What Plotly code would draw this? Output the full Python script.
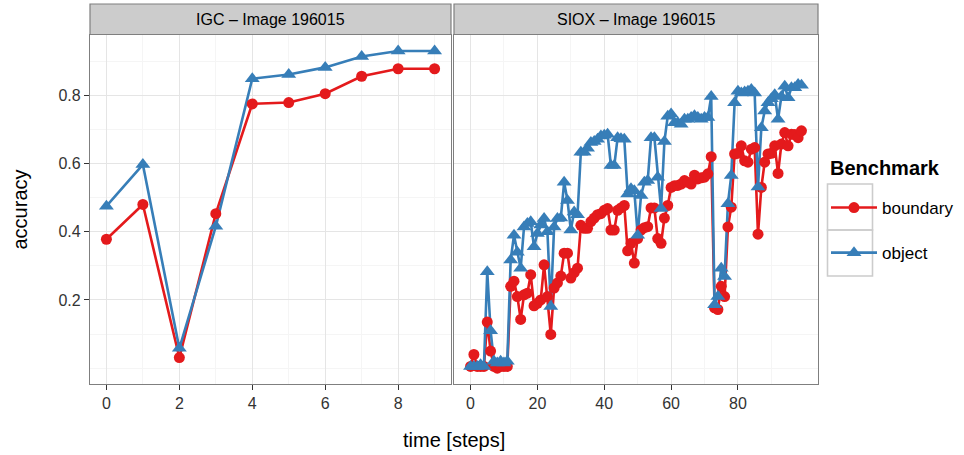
import plotly.graph_objects as go

# ---------------- data ----------------
igc_steps = list(range(10))
igc_boundary = [0.378, 0.48, 0.031, 0.453, 0.775, 0.779, 0.805, 0.856, 0.878, 0.878]
igc_object = [0.475, 0.597, 0.058, 0.416, 0.849, 0.861, 0.882, 0.914, 0.93, 0.93]

siox_steps = list(range(100))
siox_boundary = [
    0.005, 0.04, 0.005, 0.005, 0.005, 0.135, 0.05, 0.005, 0.0, 0.005,
    0.005, 0.005, 0.24, 0.255, 0.21, 0.143, 0.215, 0.22, 0.274, 0.183,
    0.19, 0.2, 0.303, 0.21, 0.099, 0.235, 0.25, 0.27, 0.337, 0.337,
    0.264, 0.28, 0.293, 0.419, 0.41, 0.41, 0.43, 0.44, 0.45, 0.453,
    0.463, 0.468, 0.405, 0.405, 0.463, 0.47, 0.477, 0.344, 0.366, 0.308,
    0.38, 0.405, 0.412, 0.415, 0.47, 0.47, 0.38, 0.366, 0.44, 0.477,
    0.53, 0.535, 0.536, 0.54, 0.55, 0.545, 0.54, 0.566, 0.555, 0.558,
    0.56, 0.57, 0.62, 0.177, 0.172, 0.24, 0.21, 0.414, 0.472, 0.628,
    0.63, 0.652, 0.608, 0.604, 0.642, 0.647, 0.393, 0.53, 0.604, 0.628,
    0.63, 0.652, 0.571, 0.657, 0.691, 0.652, 0.686, 0.685, 0.676, 0.696,
]
siox_object = [
    0.005, 0.005, 0.005, 0.01, 0.005, 0.283, 0.11, 0.02, 0.015, 0.02,
    0.015, 0.02, 0.317, 0.39, 0.34, 0.293, 0.414, 0.424, 0.429, 0.356,
    0.395, 0.42, 0.439, 0.4, 0.181, 0.414, 0.439, 0.44, 0.545, 0.492,
    0.405, 0.458, 0.45, 0.633, 0.633, 0.645, 0.662, 0.665, 0.671, 0.681,
    0.683, 0.686, 0.594, 0.594, 0.676, 0.673, 0.671, 0.511, 0.526, 0.52,
    0.39, 0.506, 0.545, 0.55, 0.676, 0.676, 0.56, 0.468, 0.665, 0.739,
    0.745, 0.72, 0.72, 0.715, 0.73, 0.73, 0.735, 0.74, 0.735, 0.73,
    0.735, 0.735, 0.797, 0.186, 0.21, 0.293, 0.269, 0.482, 0.565, 0.778,
    0.812, 0.807, 0.81, 0.812, 0.817, 0.807, 0.531, 0.705, 0.754, 0.778,
    0.79, 0.802, 0.73, 0.797, 0.827, 0.793, 0.822, 0.822, 0.832, 0.83,
]

panel_titles = ["IGC \u2013 Image 196015", "SIOX \u2013 Image 196015"]
series_names = ["boundary", "object"]
series_colors = ["#E41A1C", "#377EB8"]
series_symbols = ["circle", "triangle-up"]
y_ticks = [0.2, 0.4, 0.6, 0.8]
y_minor = [0.0, 0.1, 0.3, 0.5, 0.7, 0.9]
igc_xticks = [0, 2, 4, 6, 8]
igc_xminor = [1, 3, 5, 7, 9]
siox_xticks = [0, 20, 40, 60, 80]
siox_xminor = [10, 30, 50, 70, 90]

# ---------------- figure ----------------
W, H = 964, 455
ML, MR, MT, MB = 90, 146, 35, 71
PW, PH = W - ML - MR, H - MT - MB
FONT = "Liberation Sans, Arial, sans-serif"


def px_x(p):
    return (p - ML) / PW


def px_y(p):
    return (MT + PH - p) / PH


fig = go.Figure()

panels = [
    ("x", "y", igc_steps, [igc_boundary, igc_object]),
    ("x2", "y2", siox_steps, [siox_boundary, siox_object]),
]

# lines first (all series), then points, like geom_line + geom_point
for xa, ya, xs, ys_list in panels:
    for name, color, ys in zip(series_names, series_colors, ys_list):
        fig.add_trace(go.Scatter(x=xs, y=ys, mode="lines", xaxis=xa, yaxis=ya,
                                 line=dict(color=color, width=2.6),
                                 showlegend=False, hoverinfo="skip"))
for xa, ya, xs, ys_list in panels:
    for name, color, sym, ys in zip(series_names, series_colors, series_symbols, ys_list):
        fig.add_trace(go.Scatter(x=xs, y=ys, mode="markers", xaxis=xa, yaxis=ya,
                                 marker=dict(color=color, symbol=sym,
                                             size=11 if sym == "circle" else 13,
                                             line=dict(width=0)),
                                 showlegend=False, name=name))
# legend entries
for i, (name, color, sym) in enumerate(zip(series_names, series_colors, series_symbols)):
    fig.add_trace(go.Scatter(x=[None], y=[None], mode="lines+markers", name=name,
                             legendgroup=name,
                             line=dict(color=color, width=2.6),
                             marker=dict(color=color, symbol=sym,
                                         size=11 if sym == "circle" else 13)))

dom1 = [0, 361 / PW]
dom2 = [364 / PW, 1]
y_range = [-0.0465, 0.977]

axis_common = dict(showline=True, mirror=True, linecolor="#7f7f7f", linewidth=1.2,
                   ticks="outside", ticklen=5, tickwidth=1, tickcolor="#333333",
                   tickfont=dict(family=FONT, size=16, color="#333333"),
                   showgrid=True, gridcolor="#e5e5e5", gridwidth=1.2,
                   zeroline=False)
minor_grid = dict(showgrid=True, gridcolor="#f5f5f5", gridwidth=1)

fig.update_layout(
    width=W, height=H,
    margin=dict(l=ML, r=MR, t=MT, b=MB, autoexpand=False),
    paper_bgcolor="white", plot_bgcolor="white",
    font=dict(family=FONT, color="#000000"),
    xaxis=dict(domain=dom1, range=[-0.45, 9.45], tickmode="array", tickvals=igc_xticks,
               minor=dict(tickmode="array", tickvals=igc_xminor, **minor_grid),
               anchor="y", **axis_common),
    xaxis2=dict(domain=dom2, range=[-4.95, 103.95], tickmode="array", tickvals=siox_xticks,
                minor=dict(tickmode="array", tickvals=siox_xminor, **minor_grid),
                anchor="y2", **axis_common),
    yaxis=dict(domain=[0, 1], range=y_range, tickmode="array", tickvals=y_ticks,
               ticktext=[f"{v:.1f}" for v in y_ticks],
               minor=dict(tickmode="array", tickvals=y_minor, **minor_grid),
               anchor="x", **axis_common),
    yaxis2=dict(domain=[0, 1], range=y_range, tickmode="array", tickvals=y_ticks,
                showticklabels=False, ticks="",
                minor=dict(tickmode="array", tickvals=y_minor, **minor_grid),
                anchor="x2",
                **{k: v for k, v in axis_common.items() if k not in ("ticks",)}),
    legend=dict(
        x=px_x(826), xanchor="left", y=px_y(190), yanchor="top",
        font=dict(family=FONT, size=17, color="#000"),
        tracegroupgap=20, itemwidth=46, bgcolor="rgba(0,0,0,0)",
    ),
)

# legend title and key boxes
fig.add_annotation(xref="paper", yref="paper", x=px_x(828), y=px_y(168),
                   text="<b>Benchmark</b>", showarrow=False, xanchor="left", yanchor="middle",
                   font=dict(family=FONT, size=20, color="#000"))
for top in (184, 230):
    fig.add_shape(type="rect", xref="paper", yref="paper",
                  x0=px_x(827.5), x1=px_x(872.5), y0=px_y(top), y1=px_y(top + 46),
                  fillcolor="rgba(0,0,0,0)", line=dict(color="#cccccc", width=1.6),
                  layer="below")

# strips
strip_y0 = 1 + 0.5 / PH
strip_y1 = 1 + 31 / PH
for dom, title in zip([dom1, dom2], panel_titles):
    fig.add_shape(type="rect", xref="paper", yref="paper",
                  x0=dom[0], x1=dom[1], y0=strip_y0, y1=strip_y1,
                  fillcolor="#cccccc", line=dict(color="#7f7f7f", width=1.2), layer="above")
    fig.add_annotation(xref="paper", yref="paper", x=(dom[0] + dom[1]) / 2,
                       y=(strip_y0 + strip_y1) / 2, text=title, showarrow=False,
                       font=dict(family=FONT, size=16, color="#000"),
                       xanchor="center", yanchor="middle")

# axis titles
fig.add_annotation(xref="paper", yref="paper", x=px_x(454), y=px_y(440),
                   text="time [steps]", showarrow=False, xanchor="center", yanchor="middle",
                   font=dict(family=FONT, size=20, color="#000"))
fig.add_annotation(xref="paper", yref="paper", x=px_x(19), y=0.5,
                   text="accuracy", showarrow=False, textangle=-90,
                   xanchor="center", yanchor="middle",
                   font=dict(family=FONT, size=20, color="#000"))

fig.write_html("out.html")
